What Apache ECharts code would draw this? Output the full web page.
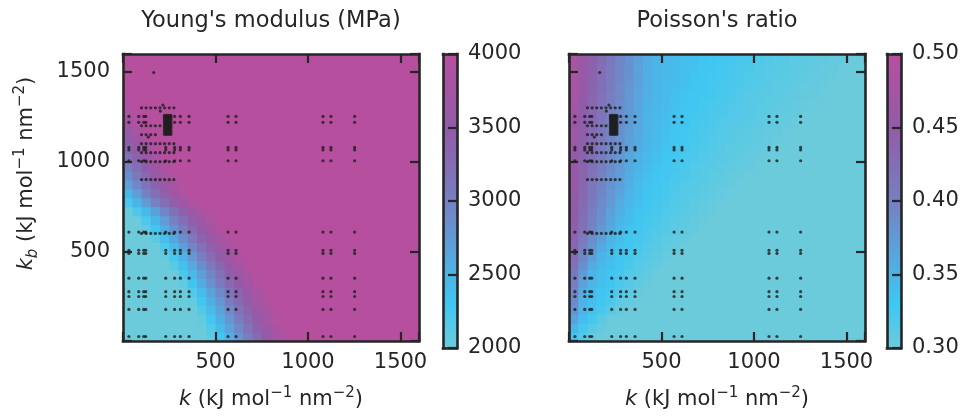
<!DOCTYPE html>
<html>
<head>
<meta charset="utf-8">
<script src="https://cdn.jsdelivr.net/npm/echarts@6/dist/echarts.min.js"></script>
<style>
  html, body { margin: 0; padding: 0; background: #fff; }
  #chart { width: 966px; height: 419px; }
</style>
</head>
<body>
<div id="chart"></div>
<script>
// cell centres of the sampled field (both axes, kJ mol-1 nm-2)
const cellCenters = [25, 75, 125, 175, 225, 275, 325, 375, 425, 475, 525, 575, 625, 675, 725, 775,
  825, 875, 925, 975, 1025, 1075, 1125, 1175, 1225, 1275, 1325, 1375, 1425, 1475, 1525, 1575];
const cellSize = 50;

// Young's modulus (MPa), one row per kb centre (bottom to top), one column per k centre
const youngRows = [
  [2000,2000,2000,2000,2000,2000,2000,2000,2000,2100,2300,2560,2800,3050,3300,3520,3720,3880,4000,4000,4000,4000,4000,4000,4000,4000,4000,4000,4000,4000,4000,4000],
  [2000,2000,2000,2000,2000,2000,2000,2000,2000,2180,2420,2680,2920,3170,3400,3610,3800,3950,4000,4000,4000,4000,4000,4000,4000,4000,4000,4000,4000,4000,4000,4000],
  [2000,2000,2000,2000,2000,2000,2000,2000,2060,2290,2550,2790,3040,3290,3510,3710,3880,4000,4000,4000,4000,4000,4000,4000,4000,4000,4000,4000,4000,4000,4000,4000],
  [2000,2000,2000,2000,2000,2000,2000,2000,2170,2420,2670,2910,3160,3390,3600,3790,3950,4000,4000,4000,4000,4000,4000,4000,4000,4000,4000,4000,4000,4000,4000,4000],
  [2000,2000,2000,2000,2000,2000,2000,2060,2290,2550,2790,3040,3290,3510,3710,3880,4000,4000,4000,4000,4000,4000,4000,4000,4000,4000,4000,4000,4000,4000,4000,4000],
  [2000,2000,2000,2000,2000,2000,2000,2170,2420,2670,2910,3160,3390,3600,3790,3950,4000,4000,4000,4000,4000,4000,4000,4000,4000,4000,4000,4000,4000,4000,4000,4000],
  [2000,2000,2000,2000,2000,2000,2080,2320,2580,2820,3070,3320,3540,3740,3900,4000,4000,4000,4000,4000,4000,4000,4000,4000,4000,4000,4000,4000,4000,4000,4000,4000],
  [2000,2000,2000,2000,2000,2000,2200,2450,2700,2950,3200,3430,3640,3820,3970,4000,4000,4000,4000,4000,4000,4000,4000,4000,4000,4000,4000,4000,4000,4000,4000,4000],
  [2000,2000,2000,2000,2000,2120,2360,2610,2860,3110,3350,3570,3760,3920,4000,4000,4000,4000,4000,4000,4000,4000,4000,4000,4000,4000,4000,4000,4000,4000,4000,4000],
  [2000,2000,2000,2000,2050,2260,2520,2770,3020,3270,3490,3700,3870,4000,4000,4000,4000,4000,4000,4000,4000,4000,4000,4000,4000,4000,4000,4000,4000,4000,4000,4000],
  [2000,2000,2000,2000,2190,2440,2690,2940,3190,3420,3630,3820,3960,4000,4000,4000,4000,4000,4000,4000,4000,4000,4000,4000,4000,4000,4000,4000,4000,4000,4000,4000],
  [2000,2000,2000,2130,2370,2620,2870,3120,3360,3580,3780,3930,4000,4000,4000,4000,4000,4000,4000,4000,4000,4000,4000,4000,4000,4000,4000,4000,4000,4000,4000,4000],
  [2000,2000,2070,2300,2560,2810,3060,3300,3530,3730,3900,4000,4000,4000,4000,4000,4000,4000,4000,4000,4000,4000,4000,4000,4000,4000,4000,4000,4000,4000,4000,4000],
  [2000,2020,2230,2480,2730,2980,3230,3460,3670,3850,3990,4000,4000,4000,4000,4000,4000,4000,4000,4000,4000,4000,4000,4000,4000,4000,4000,4000,4000,4000,4000,4000],
  [2000,2200,2440,2690,2940,3190,3420,3630,3820,3960,4000,4000,4000,4000,4000,4000,4000,4000,4000,4000,4000,4000,4000,4000,4000,4000,4000,4000,4000,4000,4000,4000],
  [2230,2480,2730,2980,3230,3460,3670,3850,3990,4000,4000,4000,4000,4000,4000,4000,4000,4000,4000,4000,4000,4000,4000,4000,4000,4000,4000,4000,4000,4000,4000,4000],
  [2480,2730,2980,3230,3460,3670,3850,3990,4000,4000,4000,4000,4000,4000,4000,4000,4000,4000,4000,4000,4000,4000,4000,4000,4000,4000,4000,4000,4000,4000,4000,4000],
  [2680,2920,3170,3400,3610,3800,3950,4000,4000,4000,4000,4000,4000,4000,4000,4000,4000,4000,4000,4000,4000,4000,4000,4000,4000,4000,4000,4000,4000,4000,4000,4000],
  [2860,3110,3350,3570,3760,3920,4000,4000,4000,4000,4000,4000,4000,4000,4000,4000,4000,4000,4000,4000,4000,4000,4000,4000,4000,4000,4000,4000,4000,4000,4000,4000],
  [3030,3270,3490,3700,3870,4000,4000,4000,4000,4000,4000,4000,4000,4000,4000,4000,4000,4000,4000,4000,4000,4000,4000,4000,4000,4000,4000,4000,4000,4000,4000,4000],
  [3190,3420,3630,3820,3960,4000,4000,4000,4000,4000,4000,4000,4000,4000,4000,4000,4000,4000,4000,4000,4000,4000,4000,4000,4000,4000,4000,4000,4000,4000,4000,4000],
  [3340,3560,3750,3910,4000,4000,4000,4000,4000,4000,4000,4000,4000,4000,4000,4000,4000,4000,4000,4000,4000,4000,4000,4000,4000,4000,4000,4000,4000,4000,4000,4000],
  [3480,3690,3860,3990,4000,4000,4000,4000,4000,4000,4000,4000,4000,4000,4000,4000,4000,4000,4000,4000,4000,4000,4000,4000,4000,4000,4000,4000,4000,4000,4000,4000],
  [3610,3800,3950,4000,4000,4000,4000,4000,4000,4000,4000,4000,4000,4000,4000,4000,4000,4000,4000,4000,4000,4000,4000,4000,4000,4000,4000,4000,4000,4000,4000,4000],
  [3730,3890,4000,4000,4000,4000,4000,4000,4000,4000,4000,4000,4000,4000,4000,4000,4000,4000,4000,4000,4000,4000,4000,4000,4000,4000,4000,4000,4000,4000,4000,4000],
  [3840,3970,4000,4000,4000,4000,4000,4000,4000,4000,4000,4000,4000,4000,4000,4000,4000,4000,4000,4000,4000,4000,4000,4000,4000,4000,4000,4000,4000,4000,4000,4000],
  [3930,4000,4000,4000,4000,4000,4000,4000,4000,4000,4000,4000,4000,4000,4000,4000,4000,4000,4000,4000,4000,4000,4000,4000,4000,4000,4000,4000,4000,4000,4000,4000],
  [3990,4000,4000,4000,4000,4000,4000,4000,4000,4000,4000,4000,4000,4000,4000,4000,4000,4000,4000,4000,4000,4000,4000,4000,4000,4000,4000,4000,4000,4000,4000,4000],
  [4000,4000,4000,4000,4000,4000,4000,4000,4000,4000,4000,4000,4000,4000,4000,4000,4000,4000,4000,4000,4000,4000,4000,4000,4000,4000,4000,4000,4000,4000,4000,4000],
  [4000,4000,4000,4000,4000,4000,4000,4000,4000,4000,4000,4000,4000,4000,4000,4000,4000,4000,4000,4000,4000,4000,4000,4000,4000,4000,4000,4000,4000,4000,4000,4000],
  [4000,4000,4000,4000,4000,4000,4000,4000,4000,4000,4000,4000,4000,4000,4000,4000,4000,4000,4000,4000,4000,4000,4000,4000,4000,4000,4000,4000,4000,4000,4000,4000],
  [4000,4000,4000,4000,4000,4000,4000,4000,4000,4000,4000,4000,4000,4000,4000,4000,4000,4000,4000,4000,4000,4000,4000,4000,4000,4000,4000,4000,4000,4000,4000,4000]
];

// Poisson's ratio, same layout
const poissonRows = [
  [.333,.317,.304,.300,.300,.300,.300,.300,.300,.300,.300,.300,.300,.300,.300,.300,.300,.300,.300,.300,.300,.300,.300,.300,.300,.300,.300,.300,.300,.300,.300,.300],
  [.348,.326,.314,.305,.300,.300,.300,.300,.300,.300,.300,.300,.300,.300,.300,.300,.300,.300,.300,.300,.300,.300,.300,.300,.300,.300,.300,.300,.300,.300,.300,.300],
  [.367,.340,.326,.312,.301,.300,.300,.300,.300,.300,.300,.300,.300,.300,.300,.300,.300,.300,.300,.300,.300,.300,.300,.300,.300,.300,.300,.300,.300,.300,.300,.300],
  [.380,.346,.335,.324,.314,.306,.300,.300,.300,.300,.300,.300,.300,.300,.300,.300,.300,.300,.300,.300,.300,.300,.300,.300,.300,.300,.300,.300,.300,.300,.300,.300],
  [.389,.350,.339,.329,.320,.311,.305,.300,.300,.300,.300,.300,.300,.300,.300,.300,.300,.300,.300,.300,.300,.300,.300,.300,.300,.300,.300,.300,.300,.300,.300,.300],
  [.396,.359,.343,.333,.325,.316,.310,.304,.300,.300,.300,.300,.300,.300,.300,.300,.300,.300,.300,.300,.300,.300,.300,.300,.300,.300,.300,.300,.300,.300,.300,.300],
  [.401,.367,.346,.337,.329,.321,.314,.308,.303,.300,.300,.300,.300,.300,.300,.300,.300,.300,.300,.300,.300,.300,.300,.300,.300,.300,.300,.300,.300,.300,.300,.300],
  [.409,.374,.348,.340,.332,.325,.317,.312,.307,.302,.300,.300,.300,.300,.300,.300,.300,.300,.300,.300,.300,.300,.300,.300,.300,.300,.300,.300,.300,.300,.300,.300],
  [.419,.385,.358,.344,.336,.328,.321,.315,.310,.306,.302,.300,.300,.300,.300,.300,.300,.300,.300,.300,.300,.300,.300,.300,.300,.300,.300,.300,.300,.300,.300,.300],
  [.427,.394,.370,.349,.340,.331,.325,.319,.313,.309,.305,.301,.300,.300,.300,.300,.300,.300,.300,.300,.300,.300,.300,.300,.300,.300,.300,.300,.300,.300,.300,.300],
  [.434,.402,.380,.359,.344,.335,.328,.322,.316,.312,.308,.305,.301,.300,.300,.300,.300,.300,.300,.300,.300,.300,.300,.300,.300,.300,.300,.300,.300,.300,.300,.300],
  [.439,.411,.388,.369,.349,.340,.330,.325,.320,.315,.311,.308,.304,.300,.300,.300,.300,.300,.300,.300,.300,.300,.300,.300,.300,.300,.300,.300,.300,.300,.300,.300],
  [.445,.419,.395,.377,.359,.345,.334,.327,.322,.318,.314,.310,.307,.304,.300,.300,.300,.300,.300,.300,.300,.300,.300,.300,.300,.300,.300,.300,.300,.300,.300,.300],
  [.448,.423,.399,.382,.364,.348,.339,.329,.325,.320,.316,.312,.309,.306,.303,.300,.300,.300,.300,.300,.300,.300,.300,.300,.300,.300,.300,.300,.300,.300,.300,.300],
  [.450,.426,.402,.386,.369,.353,.342,.333,.327,.323,.319,.315,.312,.309,.306,.303,.300,.300,.300,.300,.300,.300,.300,.300,.300,.300,.300,.300,.300,.300,.300,.300],
  [.452,.429,.407,.389,.374,.358,.346,.337,.329,.325,.321,.317,.313,.311,.308,.305,.302,.300,.300,.300,.300,.300,.300,.300,.300,.300,.300,.300,.300,.300,.300,.300],
  [.454,.432,.411,.393,.378,.363,.349,.340,.332,.327,.323,.319,.315,.313,.310,.307,.305,.302,.300,.300,.300,.300,.300,.300,.300,.300,.300,.300,.300,.300,.300,.300],
  [.456,.434,.414,.396,.381,.367,.353,.343,.335,.329,.325,.321,.318,.314,.312,.309,.307,.304,.302,.300,.300,.300,.300,.300,.300,.300,.300,.300,.300,.300,.300,.300],
  [.457,.436,.417,.398,.384,.371,.357,.346,.338,.331,.327,.323,.320,.316,.314,.311,.309,.306,.304,.301,.300,.300,.300,.300,.300,.300,.300,.300,.300,.300,.300,.300],
  [.459,.438,.420,.401,.387,.374,.361,.349,.341,.334,.328,.325,.322,.318,.315,.313,.310,.308,.306,.304,.301,.300,.300,.300,.300,.300,.300,.300,.300,.300,.300,.300],
  [.459,.440,.422,.404,.390,.377,.364,.351,.344,.337,.330,.327,.323,.320,.317,.314,.312,.310,.308,.305,.303,.301,.300,.300,.300,.300,.300,.300,.300,.300,.300,.300],
  [.461,.441,.424,.407,.392,.380,.367,.355,.346,.339,.332,.328,.325,.322,.319,.316,.313,.311,.309,.307,.305,.303,.301,.300,.300,.300,.300,.300,.300,.300,.300,.300],
  [.463,.443,.427,.410,.395,.383,.370,.358,.348,.341,.335,.329,.327,.324,.321,.318,.315,.313,.311,.309,.307,.305,.303,.301,.300,.300,.300,.300,.300,.300,.300,.300],
  [.465,.445,.429,.412,.397,.384,.372,.360,.349,.343,.337,.331,.328,.325,.322,.319,.317,.314,.312,.310,.308,.306,.304,.302,.300,.300,.300,.300,.300,.300,.300,.300],
  [.467,.447,.430,.414,.398,.386,.374,.361,.350,.344,.339,.334,.329,.326,.324,.321,.318,.315,.313,.312,.310,.308,.306,.304,.302,.300,.300,.300,.300,.300,.300,.300],
  [.469,.448,.432,.416,.400,.387,.375,.362,.350,.345,.340,.335,.331,.328,.325,.322,.320,.317,.315,.313,.311,.309,.307,.306,.304,.302,.300,.300,.300,.300,.300,.300],
  [.472,.450,.434,.417,.401,.388,.376,.364,.351,.346,.342,.337,.333,.329,.326,.324,.321,.319,.316,.314,.312,.311,.309,.307,.305,.303,.302,.300,.300,.300,.300,.300],
  [.474,.453,.436,.420,.403,.390,.378,.365,.353,.347,.343,.338,.334,.330,.328,.325,.323,.320,.318,.315,.313,.312,.310,.308,.307,.305,.303,.302,.300,.300,.300,.300],
  [.477,.456,.438,.421,.405,.391,.379,.366,.354,.347,.343,.340,.336,.332,.329,.326,.324,.322,.319,.317,.315,.313,.311,.310,.308,.306,.305,.303,.301,.300,.300,.300],
  [.478,.458,.440,.423,.407,.393,.380,.368,.355,.348,.344,.341,.337,.333,.330,.327,.325,.323,.321,.318,.316,.314,.312,.311,.309,.308,.306,.304,.303,.301,.300,.300],
  [.479,.460,.442,.425,.408,.393,.381,.368,.356,.348,.345,.341,.338,.335,.331,.329,.326,.324,.322,.320,.317,.315,.313,.312,.310,.309,.307,.306,.304,.302,.301,.300],
  [.481,.461,.443,.426,.409,.394,.381,.369,.356,.348,.345,.342,.339,.336,.332,.330,.327,.325,.323,.321,.319,.316,.314,.313,.311,.310,.308,.307,.305,.304,.302,.301]
];

// simulated parameter sets (k, kb)
const gridK = [32, 85, 112, 123, 231, 279, 310, 357, 568, 611, 1081, 1124, 1252];
const gridKb = [25, 176, 248, 275, 350, 488, 506, 607, 1005, 1065, 1079, 1219, 1252];
const fineK = [100, 125, 150, 175, 200, 225, 250, 275];
const fineKb = [600, 900, 1000, 1050, 1100, 1300];
const row1200K = [100, 125, 150, 175, 200];
const row1150K = [100, 125, 150, 175];
const clusterK = [224, 233, 242, 251, 259];
const clusterKb = [1152, 1162, 1172, 1182, 1192, 1202, 1212, 1222, 1232, 1242, 1250, 1258];
const extraPoints = [[166, 1497], [216, 1315], [202, 1282], [137, 1137]];

const axisRange = [0, 1600];
const axisTicks = [500, 1000, 1500];
const youngTicks = [2000, 2500, 3000, 3500, 4000];
const poissonTicks = [0.30, 0.35, 0.40, 0.45, 0.50];

const rampStops = [[0, '#6ccbdb'], [0.15, '#3fc7f2'], [0.3, '#55a9e0'], [0.5, '#7680c2'], [0.75, '#925ba8'], [1, '#b74f9f']];
const ink = '#262626';
const font = 'DejaVu Sans';

function rampColor(t) {
  t = Math.max(0, Math.min(1, t));
  for (let i = 1; i < rampStops.length; i++) {
    if (t <= rampStops[i][0]) {
      const a = rampStops[i - 1], b = rampStops[i];
      return echarts.color.lerp((t - a[0]) / (b[0] - a[0]), [a[1], b[1]]);
    }
  }
  return rampStops[rampStops.length - 1][1];
}

const points = [];
gridKb.forEach(kb => gridK.forEach(k => points.push([k, kb])));
fineKb.forEach(kb => fineK.forEach(k => points.push([k, kb])));
row1200K.forEach(k => points.push([k, 1200]));
row1150K.forEach(k => points.push([k, 1150]));
clusterKb.forEach(kb => clusterK.forEach(k => points.push([k, kb])));
extraPoints.forEach(p => points.push(p));

function cellSeries(rows, ticks, xi, yi) {
  const vmin = ticks[0], vmax = ticks[ticks.length - 1];
  const data = [];
  rows.forEach((row, i) => row.forEach((v, j) => data.push([cellCenters[j], cellCenters[i], v])));
  const h = cellSize / 2;
  return {
    type: 'custom', xAxisIndex: xi, yAxisIndex: yi, clip: true, silent: true, z: 1,
    encode: { x: 0, y: 1 },
    data: data,
    renderItem: function (params, api) {
      const k = api.value(0), kb = api.value(1), v = api.value(2);
      const a = api.coord([k - h, kb + h]);
      const b = api.coord([k + h, kb - h]);
      return {
        type: 'rect',
        shape: { x: a[0], y: a[1], width: b[0] - a[0] + 0.8, height: b[1] - a[1] + 0.8 },
        style: { fill: rampColor((v - vmin) / (vmax - vmin)) }
      };
    }
  };
}

function colorbarSeries(ticks, xi, yi) {
  return {
    type: 'custom', xAxisIndex: xi, yAxisIndex: yi, silent: true, z: 1,
    encode: { x: 0, y: [1, 2] },
    data: [[0, ticks[0], ticks[ticks.length - 1]]],
    renderItem: function (params, api) {
      const a = api.coord([0, api.value(2)]);
      const b = api.coord([1, api.value(1)]);
      return {
        type: 'rect',
        shape: { x: a[0], y: a[1], width: b[0] - a[0], height: b[1] - a[1] },
        style: { fill: new echarts.graphic.LinearGradient(0, 1, 0, 0, rampStops.map(s => ({ offset: s[0], color: s[1] }))) }
      };
    }
  };
}

const frameLine = { show: true, onZero: false, lineStyle: { color: ink, width: 2.6, cap: 'square' } };
const inTick = { show: true, inside: true, length: 9, lineStyle: { color: ink, width: 2.2 } };
const textBase = { fontFamily: font, fontSize: 21, color: ink };
const unitRich = {
  i: { fontFamily: font, fontSize: 21, fontStyle: 'italic', color: ink, lineHeight: 28 },
  sub: { fontFamily: font, fontSize: 15, fontStyle: 'italic', color: ink, lineHeight: 14, verticalAlign: 'bottom' },
  sup: { fontFamily: font, fontSize: 15, color: ink, lineHeight: 14, verticalAlign: 'top' }
};
const unitText = ' (kJ mol{sup|\u22121} nm{sup|\u22122})';

function tickLabel(v) {
  return axisTicks.indexOf(v) >= 0 ? String(v) : '';
}

function plotAxisX(gridIndex, position, name) {
  const ax = {
    type: 'value', gridIndex: gridIndex, position: position, z: 3,
    min: axisRange[0], max: axisRange[1], interval: axisTicks[1] - axisTicks[0],
    axisLine: frameLine, axisTick: inTick, splitLine: { show: false },
    axisLabel: { show: position === 'bottom', margin: 11, formatter: tickLabel, ...textBase }
  };
  if (position === 'bottom') {
    ax.name = '{i|k}' + unitText;
    ax.nameLocation = 'middle';
    ax.nameGap = 45;
    ax.nameTextStyle = { ...textBase, lineHeight: 28, rich: unitRich };
  } else {
    ax.name = name;
    ax.nameLocation = 'middle';
    ax.nameGap = 19;
    ax.nameTextStyle = { ...textBase, fontSize: 22.5, lineHeight: 28 };
  }
  return ax;
}

function plotAxisY(gridIndex, position, withLabels) {
  const ax = {
    type: 'value', gridIndex: gridIndex, position: position, z: 3,
    min: axisRange[0], max: axisRange[1], interval: axisTicks[1] - axisTicks[0],
    axisLine: frameLine, axisTick: inTick, splitLine: { show: false },
    axisLabel: { show: withLabels, margin: 13, formatter: tickLabel, ...textBase }
  };
  if (withLabels) {
    ax.name = '{i|k}{sub|b}' + unitText;
    ax.nameLocation = 'middle';
    ax.nameGap = 82;
    ax.nameTextStyle = { ...textBase, lineHeight: 28, rich: unitRich, padding: [0, 0, 0, 48] };
  }
  return ax;
}

function barAxisX(gridIndex, position) {
  return {
    type: 'value', gridIndex: gridIndex, position: position, z: 3, min: 0, max: 1,
    axisLine: frameLine, axisTick: { show: false }, axisLabel: { show: false }, splitLine: { show: false }
  };
}

function barAxisY(gridIndex, position, ticks, digits) {
  return {
    type: 'value', gridIndex: gridIndex, position: position, z: 3,
    min: ticks[0], max: ticks[ticks.length - 1], interval: ticks[1] - ticks[0],
    axisLine: frameLine,
    axisTick: position === 'right' ? inTick : { show: false },
    axisLabel: {
      show: position === 'right', margin: 11, ...textBase,
      formatter: v => digits ? v.toFixed(digits) : String(v)
    },
    splitLine: { show: false }
  };
}

const chart = echarts.init(document.getElementById('chart'));
chart.setOption({
  animation: false,
  backgroundColor: '#ffffff',
  grid: [
    { left: 123, top: 54, width: 296, height: 294 },
    { left: 443, top: 54, width: 14, height: 294 },
    { left: 569, top: 54, width: 296, height: 294 },
    { left: 887, top: 54, width: 14, height: 294 }
  ],
  xAxis: [
    plotAxisX(0, 'bottom'),
    plotAxisX(0, 'top', "Young's modulus (MPa)"),
    barAxisX(1, 'bottom'),
    barAxisX(1, 'top'),
    plotAxisX(2, 'bottom'),
    plotAxisX(2, 'top', "Poisson's ratio"),
    barAxisX(3, 'bottom'),
    barAxisX(3, 'top')
  ],
  yAxis: [
    plotAxisY(0, 'left', true),
    plotAxisY(0, 'right', false),
    barAxisY(1, 'left', youngTicks, 0),
    barAxisY(1, 'right', youngTicks, 0),
    plotAxisY(2, 'left', false),
    plotAxisY(2, 'right', false),
    barAxisY(3, 'left', poissonTicks, 2),
    barAxisY(3, 'right', poissonTicks, 2)
  ],
  series: [
    cellSeries(youngRows, youngTicks, 0, 0),
    {
      type: 'scatter', xAxisIndex: 0, yAxisIndex: 0, data: points, symbolSize: 3.2, z: 4, silent: true,
      itemStyle: { color: '#1e1e1e' }
    },
    colorbarSeries(youngTicks, 2, 2),
    cellSeries(poissonRows, poissonTicks, 4, 4),
    {
      type: 'scatter', xAxisIndex: 4, yAxisIndex: 4, data: points, symbolSize: 3.2, z: 4, silent: true,
      itemStyle: { color: '#1e1e1e' }
    },
    colorbarSeries(poissonTicks, 6, 6)
  ]
});
window.addEventListener('resize', function () {
  chart.resize();
});
</script>
</body>
</html>
